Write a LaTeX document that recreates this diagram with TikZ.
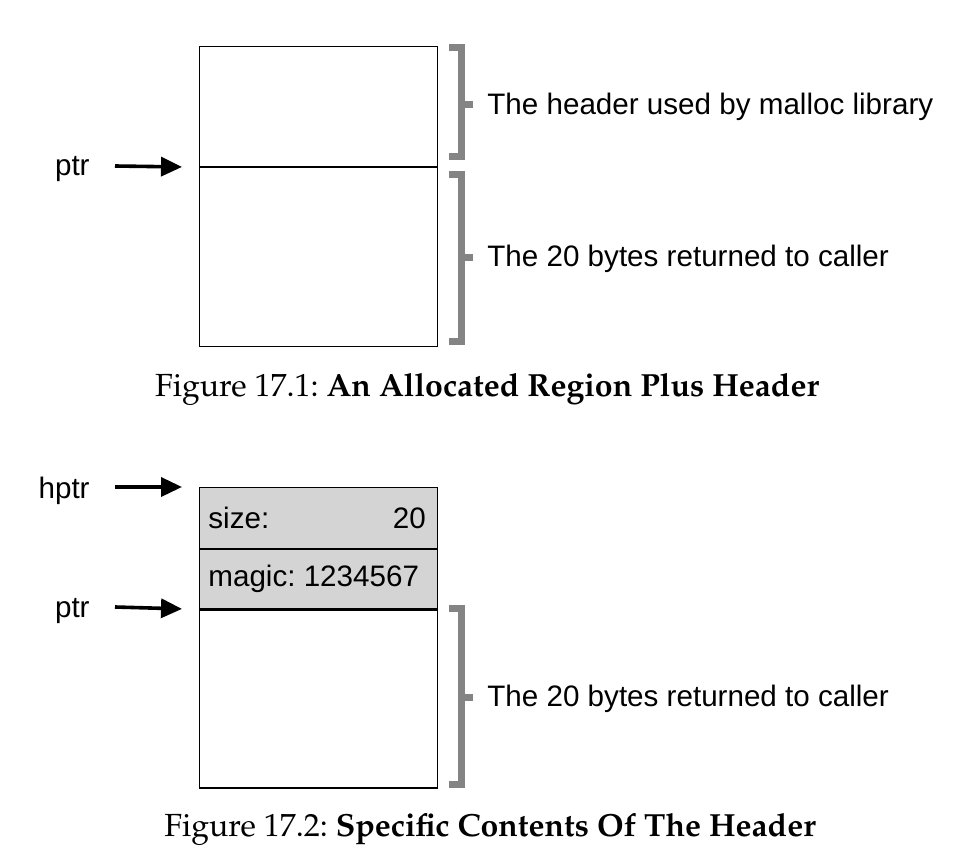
\documentclass[tikz,border=0pt]{standalone}
\usepackage[T1]{fontenc}
\usepackage{fontspec}
\setmainfont{Liberation Sans}
\usetikzlibrary{arrows.meta}
\definecolor{bracketgray}{HTML}{848484}
\definecolor{cellgray}{HTML}{D4D4D4}
\newcommand{\capfont}{\fontencoding{T1}\fontfamily{ppl}\selectfont}
\frenchspacing
\tikzset{
  lbl/.style={font=\fontsize{14.8}{17}\selectfont, inner sep=0pt},
  memcell/.style={draw, line width=0.6pt, minimum width=119pt, inner sep=0pt, anchor=north west},
  ptrarrow/.style={-{Triangle[length=10.5pt,width=9.5pt]}, line width=1.8pt, shorten >=8.5pt},
  bracket/.style={draw=bracketgray, line width=3.5pt, line join=miter},
  caption/.style={font=\capfont\fontsize{16}{19}\selectfont, inner sep=0pt}
}
\begin{document}
\begin{tikzpicture}[x=0.5pt, y=-0.5pt]
\useasboundingbox (0,0) rectangle (976,856);
% Figure 17.1: header + region
\node[memcell, minimum height=60pt] (hdr) at (199,46) {};
\node[memcell, minimum height=89.5pt] (data) at (hdr.south west) {};
\node[lbl, anchor=base east] (ptr) at (90,176) {ptr};
\coordinate (ptrtail) at (115,166);
\draw[ptrarrow] (ptrtail) -- (hdr.south west);
\draw[bracket] (449,48) -| (461,157) -- (449,157);
\draw[bracket] (461,105) -- (473,105);
\node[lbl, anchor=west] (hdrtext) at (487,107) {The header used by malloc library};
\draw[bracket] (449,174.5) -| (461,341.5) -- (449,341.5);
\draw[bracket] (461,258) -- (473,258);
\node[lbl, anchor=west] (datatext) at (487,259) {The 20 bytes returned to caller};
\node[caption] (cap1) at (487,389) {Figure 17.1: \textbf{An Allocated Region Plus Header}};
% Figure 17.2: contents of the header
\node[memcell, minimum height=30.5pt, fill=cellgray] (size) at (199,487) {};
\node[memcell, minimum height=29.5pt, fill=cellgray] (magic) at (size.south west) {};
\node[memcell, minimum height=89pt] (data2) at (magic.south west) {};
\node[lbl, anchor=west] (sizelbl) at ([xshift=4.5pt]size.west) {size:};
\node[lbl, anchor=east] (sizeval) at ([xshift=-6pt]size.east) {20};
\node[lbl, anchor=west] (magiclbl) at ([xshift=4.5pt]magic.west) {magic: 1234567};
\node[lbl, anchor=base east] (hptr) at (90,498) {hptr};
\coordinate (hptrtail) at (115,487);
\draw[ptrarrow] (hptrtail) -- (size.north west);
\node[lbl, anchor=base east] (ptrb) at (90,617) {ptr};
\coordinate (ptrbtail) at (115,607);
\draw[ptrarrow] (ptrbtail) -- (magic.south west);
\draw[bracket] (449,608.5) -| (461,784.5) -- (449,784.5);
\draw[bracket] (461,697) -- (473,697);
\node[lbl, anchor=west] (data2text) at (487,699) {The 20 bytes returned to caller};
\node[caption] (cap2) at (490,829) {Figure 17.2: \textbf{Specific Contents Of The Header}};
\end{tikzpicture}
\end{document}
